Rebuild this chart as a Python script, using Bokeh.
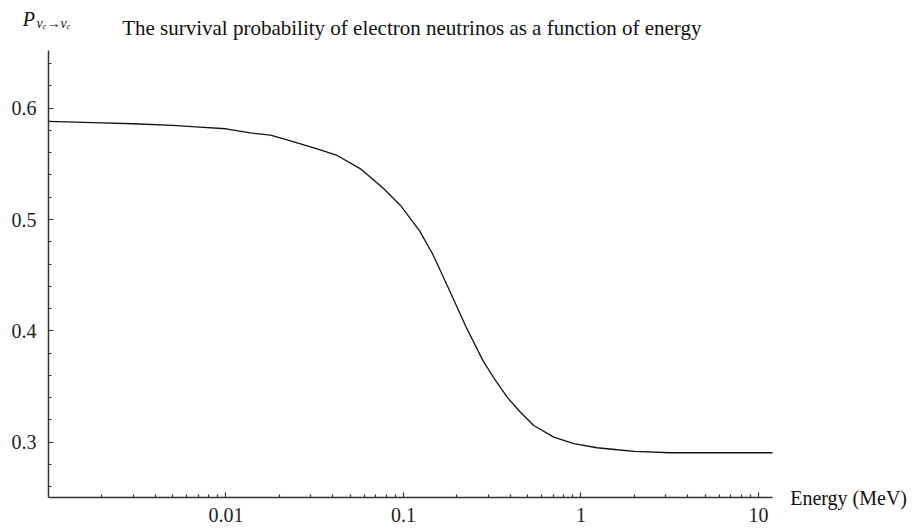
import math
from bokeh.plotting import figure
from bokeh.models import FixedTicker, NumeralTickFormatter, Label
from bokeh.embed import file_html
from bokeh.resources import INLINE

# ---- data ----
energy = [0.001, 0.002, 0.003, 0.005, 0.0071, 0.01, 0.0137, 0.0178, 0.0231, 0.0326,
          0.0423, 0.0573, 0.0775, 0.0962, 0.1094, 0.123, 0.146, 0.182, 0.226, 0.281,
          0.330, 0.3837, 0.456, 0.542, 0.703, 0.910, 1.233, 1.60, 2.0, 3.2, 5.0, 8.0, 12.0]
prob = [0.5882, 0.5868, 0.586, 0.5845, 0.583, 0.5815, 0.5778, 0.5757, 0.5706, 0.5635,
        0.5575, 0.5455, 0.5276, 0.5126, 0.5007, 0.490, 0.469, 0.436, 0.403, 0.373,
        0.3554, 0.3404, 0.3269, 0.3150, 0.3045, 0.2986, 0.2950, 0.2932, 0.2918, 0.2905,
        0.2905, 0.2905, 0.2905]

x_major_ticks = [0.01, 0.1, 1, 10]
x_minor_ticks = [m * 10.0 ** d for d in range(-3, 2) for m in range(2, 10) if m * 10.0 ** d <= 12]
y_major_ticks = [0.3, 0.4, 0.5, 0.6]
y_minor_ticks = [0.26, 0.28, 0.32, 0.34, 0.36, 0.38, 0.42, 0.44, 0.46, 0.48,
                 0.52, 0.54, 0.56, 0.58, 0.62, 0.64]

title_text = "The survival probability of electron neutrinos as a function of energy"
x_label_text = "Energy (MeV)"

# axis extents (data) and where the axes sit on the canvas (pixels)
X0, X1 = 0.001, 12.0
Y0, Y1 = 0.2503, 0.6518
W, H = 914, 529
LEFT, RIGHT, TOP, BOTTOM = 48, 772, 50, 497

# the frame covers the whole canvas so that text outside the axes is drawn;
# extend the ranges so the axes land on the wanted pixels
dec_px = (RIGHT - LEFT) / (math.log10(X1) - math.log10(X0))
xr0 = 10 ** (math.log10(X0) - LEFT / dec_px)
xr1 = 10 ** (math.log10(X1) + (W - RIGHT) / dec_px)
unit_px = (BOTTOM - TOP) / (Y1 - Y0)
yr0 = Y0 - (H - BOTTOM) / unit_px
yr1 = Y1 + TOP / unit_px

SERIF = "Liberation Serif"

p = figure(width=W, height=H, x_axis_type="log",
           x_range=(xr0, xr1), y_range=(yr0, yr1),
           output_backend="svg", toolbar_location=None,
           min_border_left=0, min_border_right=0,
           min_border_top=0, min_border_bottom=0)
p.background_fill_color = "white"
p.border_fill_color = "white"
p.outline_line_color = None
p.grid.visible = False

p.line(energy, prob, line_color="#111111", line_width=1.3)

xa = p.xaxis[0]
ya = p.yaxis[0]
xa.fixed_location = Y0
ya.fixed_location = X0
xa.bounds = (X0, X1)
ya.bounds = (Y0, Y1)
xa.ticker = FixedTicker(ticks=x_major_ticks, minor_ticks=x_minor_ticks)
xa.formatter = NumeralTickFormatter(format="0.[00]")
ya.ticker = FixedTicker(ticks=y_major_ticks, minor_ticks=y_minor_ticks)
ya.formatter = NumeralTickFormatter(format="0.0")

for ax in (xa, ya):
    ax.major_tick_in = 5
    ax.major_tick_out = 0
    ax.minor_tick_in = 3
    ax.minor_tick_out = 0
    ax.axis_line_color = "#333333"
    ax.axis_line_width = 1.5
    ax.major_tick_line_color = "#333333"
    ax.minor_tick_line_color = "#333333"
    ax.major_tick_line_width = 1.2
    ax.minor_tick_line_width = 1.2
    ax.major_label_text_font = SERIF
    ax.major_label_text_font_size = "20px"
    ax.major_label_text_color = "#222222"
xa.major_label_standoff = 10
ya.major_label_standoff = 12

p.add_layout(Label(x=0.0026, y=0.6716, text=title_text, text_font=SERIF,
                   text_font_size="21px", text_color="#111111",
                   text_baseline="alphabetic", text_align="left"))
p.add_layout(Label(x=15.1, y=0.2503, text=x_label_text, text_font=SERIF,
                   text_font_size="20px", text_color="#111111",
                   text_baseline="alphabetic", text_align="left"))
p.add_layout(Label(x=0.000715, y=0.6797, text="P", text_font=SERIF,
                   text_font_style="italic", text_font_size="20px",
                   text_color="#111111", text_baseline="alphabetic"))
p.add_layout(Label(x=0.000857, y=0.6761, text="\u03bd\u2091\u2192\u03bd\u2091",
                   text_font=SERIF, text_font_style="italic",
                   text_font_size="14px", text_color="#111111",
                   text_baseline="alphabetic"))

open("out.html", "w").write(file_html(p, INLINE))
